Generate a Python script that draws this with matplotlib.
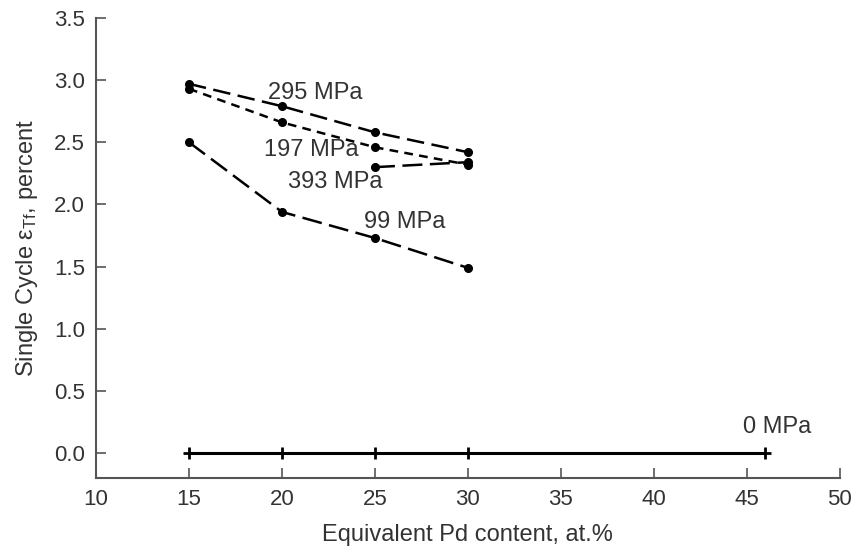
import matplotlib
matplotlib.use('Agg')
import matplotlib.pyplot as plt

plt.rcParams['font.family'] = ['Liberation Sans', 'DejaVu Sans']
plt.rcParams['mathtext.fontset'] = 'custom'
plt.rcParams['mathtext.rm'] = 'Liberation Sans'
plt.rcParams['mathtext.it'] = 'Liberation Sans'

# stress series: Pd content (at.%) vs single cycle transformation strain (%)
pd_295 = [15, 20, 25, 30]
eps_295 = [2.97, 2.79, 2.58, 2.42]
pd_197 = [15, 20, 25, 30]
eps_197 = [2.93, 2.66, 2.46, 2.32]
pd_393 = [25, 30]
eps_393 = [2.30, 2.34]
pd_99 = [15, 20, 25, 30]
eps_99 = [2.50, 1.94, 1.73, 1.49]
pd_0 = [15, 20, 25, 30, 46]
eps_0 = [0.0, 0.0, 0.0, 0.0, 0.0]

labels = ['295 MPa', '197 MPa', '393 MPa', '99 MPa', '0 MPa']
label_pos = [(19.25, 2.90), (19.05, 2.44), (20.3, 2.18), (24.4, 1.86), (44.8, 0.21)]

txt = '#333333'
fig = plt.figure(figsize=(8.57, 5.55), dpi=100)
ax = fig.add_axes([0.112, 0.1387, 0.868, 0.829])

ax.plot(pd_295, eps_295, color='black', lw=1.8, ls=(0, (7, 3)), marker='o', ms=5.5)
ax.plot(pd_197, eps_197, color='black', lw=1.8, ls=(0, (3.5, 2.5)), marker='o', ms=5.5)
ax.plot(pd_393, eps_393, color='black', lw=1.8, ls=(0, (8, 3)), marker='o', ms=5.5)
ax.plot(pd_99, eps_99, color='black', lw=1.8, ls=(0, (8, 3)), marker='o', ms=5.5)
ax.plot(pd_0, eps_0, color='black', lw=2.2, ls='-', marker='+', ms=8, mew=2)

for lab, (lx, ly) in zip(labels, label_pos):
    ax.text(lx, ly, lab, fontsize=17, color=txt, ha='left', va='center')

ax.set_xlim(10, 50)
ax.set_ylim(-0.2, 3.5)
ax.set_xticks(range(10, 51, 5))
ax.set_yticks([0.0, 0.5, 1.0, 1.5, 2.0, 2.5, 3.0, 3.5])
ax.set_yticklabels(['0.0', '0.5', '1.0', '1.5', '2.0', '2.5', '3.0', '3.5'])

for s in ['top', 'right']:
    ax.spines[s].set_visible(False)
for s in ['left', 'bottom']:
    ax.spines[s].set_color('#555555')
    ax.spines[s].set_linewidth(1.5)

ax.tick_params(direction='in', length=7, width=1.2, color='#555555',
               labelsize=16, labelcolor=txt, pad=8)

ax.set_xlabel('Equivalent Pd content, at.%', fontsize=17, color=txt, labelpad=10)
ax.set_ylabel(r'Single Cycle $\mathregular{\varepsilon_{Tf}}$, percent', fontsize=17,
              color=txt, labelpad=10)

plt.savefig('out.png', dpi=100)
